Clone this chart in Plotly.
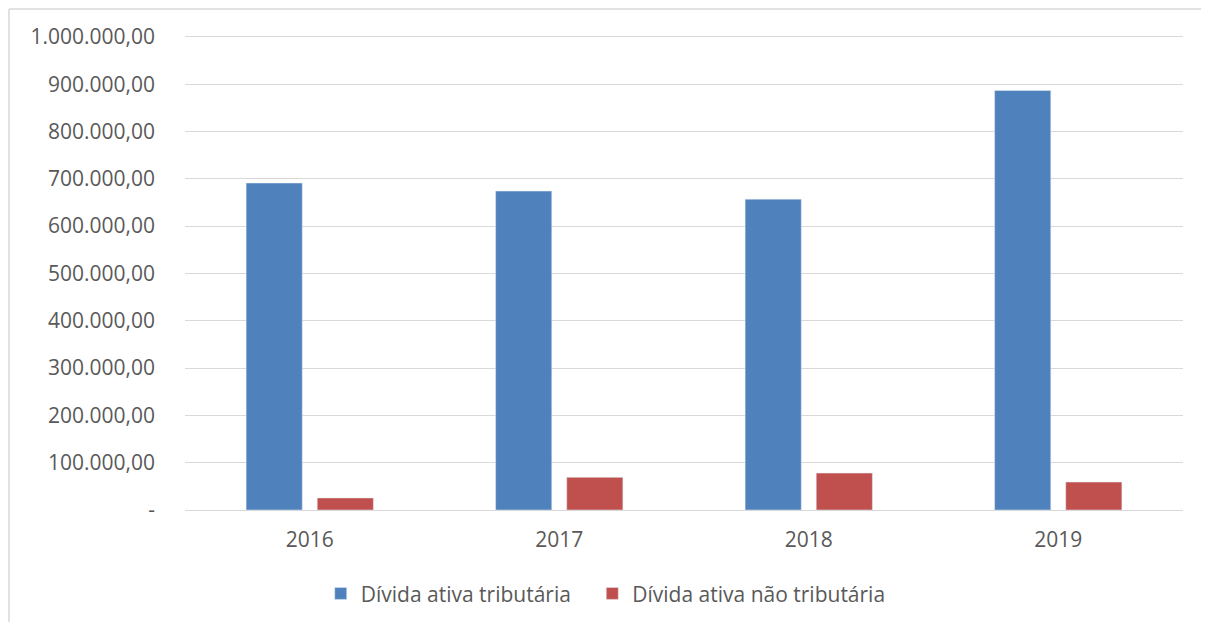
import plotly.graph_objects as go

# Dívida ativa por ano
anos = ['2016', '2017', '2018', '2019']
tributaria = [691000, 674000, 657000, 886500]
nao_tributaria = [25500, 69000, 78000, 59000]

tick_vals = [0, 100000, 200000, 300000, 400000, 500000, 600000, 700000, 800000, 900000, 1000000]
tick_text = ['-', '100.000,00', '200.000,00', '300.000,00', '400.000,00', '500.000,00',
             '600.000,00', '700.000,00', '800.000,00', '900.000,00', '1.000.000,00']

fig = go.Figure()

# trailing no-break spaces widen the gap between the two legend entries
fig.add_trace(go.Bar(
    x=anos,
    y=tributaria,
    name='Dívida ativa tributária\u00a0\u00a0\u00a0',
    marker=dict(color='#4f81bd'),
))

fig.add_trace(go.Bar(
    x=anos,
    y=nao_tributaria,
    name='Dívida ativa não tributária',
    marker=dict(color='#c0504d'),
))

frame = dict(color='#d9d9d9', width=1.5)

# the page has an 8px body margin, so the figure is a bit smaller than the window
fig.update_layout(
    width=1193,
    height=614,
    margin=dict(l=177, r=18, t=26, b=112, autoexpand=False),
    paper_bgcolor='white',
    plot_bgcolor='white',
    barmode='group',
    bargap=0.43,
    bargroupgap=0.21,
    font=dict(family='Open Sans', color='#595959', size=21),
    showlegend=True,
    legend=dict(
        orientation='h',
        x=0.136, xanchor='left',
        yref='container', y=0.046, yanchor='middle',
        font=dict(size=21, color='#595959'),
        traceorder='normal',
    ),
    # light frame round the chart: only its top and left edges are in view
    shapes=[
        dict(type='line', xref='paper', yref='paper',
             x0=-0.1764, x1=1.1, y0=1.0525, y1=1.0525, line=frame, layer='below'),
        dict(type='line', xref='paper', yref='paper',
             x0=-0.1764, x1=-0.1764, y0=-0.3, y1=1.0525, line=frame, layer='below'),
    ],
)

fig.update_xaxes(
    showgrid=False,
    showline=False,
    ticks='',
    ticklabelstandoff=15,
    tickfont=dict(size=21, color='#595959'),
)

fig.update_yaxes(
    range=[0, 1006000],
    tickvals=tick_vals,
    ticktext=tick_text,
    showgrid=True,
    gridcolor='#d9d9d9',
    gridwidth=1,
    zeroline=True,
    zerolinecolor='#d9d9d9',
    zerolinewidth=1,
    ticks='',
    ticklabelstandoff=29,
    tickfont=dict(size=21, color='#595959'),
)

fig.write_html('out.html')
